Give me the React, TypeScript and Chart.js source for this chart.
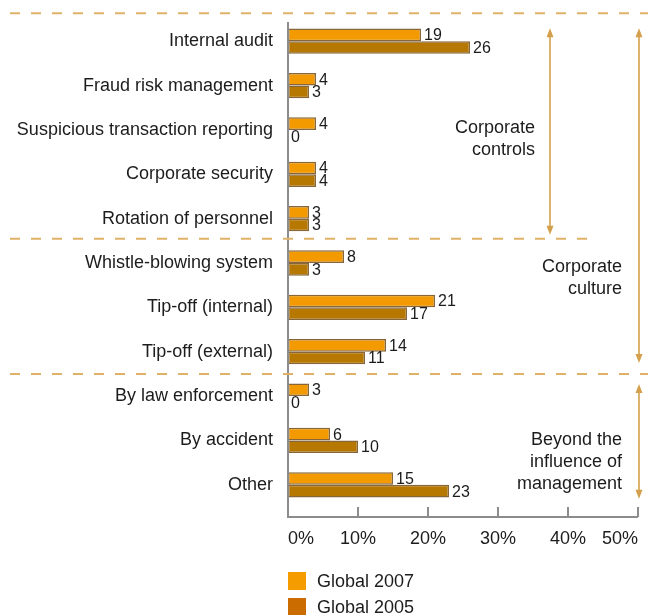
import React, { useEffect, useRef } from "react";
import { Chart, registerables } from "chart.js";

Chart.register(...registerables);

// Detection methods, share of reported frauds (%)
const categories = [
  "Internal audit",
  "Fraud risk management",
  "Suspicious transaction reporting",
  "Corporate security",
  "Rotation of personnel",
  "Whistle-blowing system",
  "Tip-off (internal)",
  "Tip-off (external)",
  "By law enforcement",
  "By accident",
  "Other",
];
const global2007 = [19, 4, 4, 4, 3, 8, 21, 14, 3, 6, 15];
const global2005 = [26, 3, 0, 4, 3, 3, 17, 11, 0, 10, 23];
const seriesNames = ["Global 2007", "Global 2005"];
const xTickValues = [0, 10, 20, 30, 40, 50];

// Groupings shown on the right-hand side
const groupLabels = [
  ["Corporate", "controls"],
  ["Corporate", "culture"],
  ["Beyond the", "influence of", "management"],
];

const FONT = '"Liberation Sans", Arial, Helvetica, sans-serif';
const TEXT = "#1c1c1c";
const AXIS = "#8c8c8c";
const DASH = "#dfb268";
const ARROW = "#d4a04c";
const barFills = ["#f39a00", "#b67800"];
const barBorder = "#86663a";
const swatchFills = ["#f49c00", "#cb6c00"];

function drawArrow(ctx: CanvasRenderingContext2D, x: number, y1: number, y2: number) {
  const head = 9;
  const half = 3.5;
  ctx.save();
  ctx.strokeStyle = ARROW;
  ctx.fillStyle = ARROW;
  ctx.lineWidth = 1.6;
  ctx.beginPath();
  ctx.moveTo(x, y1 + head - 1);
  ctx.lineTo(x, y2 - head + 1);
  ctx.stroke();
  ctx.beginPath();
  ctx.moveTo(x, y1);
  ctx.lineTo(x - half, y1 + head);
  ctx.lineTo(x + half, y1 + head);
  ctx.closePath();
  ctx.fill();
  ctx.beginPath();
  ctx.moveTo(x, y2);
  ctx.lineTo(x - half, y2 - head);
  ctx.lineTo(x + half, y2 - head);
  ctx.closePath();
  ctx.fill();
  ctx.restore();
}

function drawDashed(ctx: CanvasRenderingContext2D, x1: number, x2: number, y: number) {
  ctx.save();
  ctx.strokeStyle = DASH;
  ctx.lineWidth = 2;
  ctx.setLineDash([10, 11]);
  ctx.beginPath();
  ctx.moveTo(x1, y);
  ctx.lineTo(x2, y);
  ctx.stroke();
  ctx.restore();
}

function drawLines(ctx: CanvasRenderingContext2D, lines: string[], right: number, centerY: number) {
  const lh = 22;
  ctx.save();
  ctx.font = `18px ${FONT}`;
  ctx.fillStyle = TEXT;
  ctx.textAlign = "right";
  ctx.textBaseline = "middle";
  const start = centerY - ((lines.length - 1) * lh) / 2;
  lines.forEach((l, i) => ctx.fillText(l, right, start + i * lh));
  ctx.restore();
}

const decorations = {
  id: "decorations",
  afterDatasetsDraw(chart: any) {
    const { ctx, chartArea } = chart;
    const xs = chart.scales.x;
    const axisY = chartArea.bottom + 10;

    // value labels at bar ends
    ctx.save();
    ctx.font = `16px ${FONT}`;
    ctx.fillStyle = TEXT;
    ctx.textAlign = "left";
    ctx.textBaseline = "middle";
    chart.data.datasets.forEach((ds: any, di: number) => {
      const meta = chart.getDatasetMeta(di);
      meta.data.forEach((el: any, i: number) => {
        ctx.fillText(String(ds.data[i]), el.x + 3, el.y + 1);
      });
    });
    ctx.restore();

    // axes
    ctx.save();
    ctx.strokeStyle = AXIS;
    ctx.lineWidth = 2;
    ctx.beginPath();
    ctx.moveTo(chartArea.left, chartArea.top + 3);
    ctx.lineTo(chartArea.left, axisY);
    ctx.lineTo(chartArea.right, axisY);
    ctx.stroke();
    xs.ticks.forEach((t: any) => {
      if (t.value === 0) return;
      const px = xs.getPixelForValue(t.value);
      ctx.beginPath();
      ctx.moveTo(px, axisY);
      ctx.lineTo(px, axisY - 10);
      ctx.stroke();
    });
    ctx.restore();
  },
  afterDraw(chart: any) {
    const { ctx, chartArea } = chart;
    const ys = chart.scales.y;
    const W = chart.width;
    const py = (i: number) => ys.getPixelForValue(i);
    const sep1 = (py(4) + py(5)) / 2 - 2;
    const sep2 = (py(7) + py(8)) / 2;
    const topLine = py(0) - 28;

    drawDashed(ctx, 10, W, topLine);
    drawDashed(ctx, 10, chartArea.right - 48, sep1);
    drawDashed(ctx, 10, W, sep2);

    const xIn = chartArea.right - 88;
    const xOut = chartArea.right + 1;
    drawArrow(ctx, xIn, py(0) - 13, sep1 - 4);
    drawArrow(ctx, xOut, py(0) - 13, sep2 - 11);
    drawArrow(ctx, xOut, sep2 + 10, py(10) + 14);

    drawLines(ctx, groupLabels[0], xIn - 15, py(2) + 9);
    drawLines(ctx, groupLabels[1], xOut - 17, py(5) + 15);
    drawLines(ctx, groupLabels[2], xOut - 17, py(9) + 22);

    // legend
    ctx.save();
    ctx.font = `18px ${FONT}`;
    ctx.textBaseline = "middle";
    ctx.textAlign = "left";
    seriesNames.forEach((name, i) => {
      const cy = 581 + i * 26;
      ctx.fillStyle = swatchFills[i];
      ctx.fillRect(chartArea.left, cy - 9, 18, 18);
      ctx.fillStyle = TEXT;
      ctx.fillText(name, chartArea.left + 29, cy + 1);
    });
    ctx.restore();
  },
};

export default function App() {
  const ref = useRef<HTMLCanvasElement | null>(null);

  useEffect(() => {
    if (!ref.current) return;
    const chart = new Chart(ref.current, {
      type: "bar",
      data: {
        labels: categories,
        datasets: [global2007, global2005].map((data, i) => ({
          label: seriesNames[i],
          data,
          backgroundColor: barFills[i],
          borderColor: barBorder,
          borderWidth: 1.5,
          borderSkipped: false,
          categoryPercentage: 0.57,
          barPercentage: 1,
        })),
      },
      options: {
        indexAxis: "y",
        animation: false,
        responsive: false,
        maintainAspectRatio: false,
        layout: { padding: { top: 19, right: 10, bottom: 67, left: 0 } },
        plugins: { legend: { display: false }, tooltip: { enabled: false } },
        scales: {
          x: {
            min: xTickValues[0],
            max: xTickValues[xTickValues.length - 1],
            afterBuildTicks: (s: any) => {
              s.ticks = xTickValues.map((v) => ({ value: v }));
            },
            ticks: {
              align: "inner",
              padding: 21,
              color: TEXT,
              font: { family: FONT, size: 18 },
              callback: (v: any) => `${v}%`,
            },
            grid: { display: false, drawTicks: false },
            border: { display: false },
            afterFit: (s: any) => {
              s.height = 41;
              s.paddingLeft = 0;
              s.paddingRight = 0;
            },
          },
          y: {
            ticks: {
              padding: 15,
              color: TEXT,
              font: { family: FONT, size: 18 },
            },
            grid: { display: false, drawTicks: false },
            border: { display: false },
            afterFit: (s: any) => {
              s.width = 288;
              s.paddingTop = 0;
              s.paddingBottom = 0;
            },
          },
        },
      } as any,
      plugins: [decorations],
    });
    return () => chart.destroy();
  }, []);

  return (
    <div style={{ position: "absolute", left: 0, top: 0, width: 648, height: 615, background: "#fff" }}>
      <canvas ref={ref} width={648} height={615} style={{ display: "block" }} />
    </div>
  );
}
